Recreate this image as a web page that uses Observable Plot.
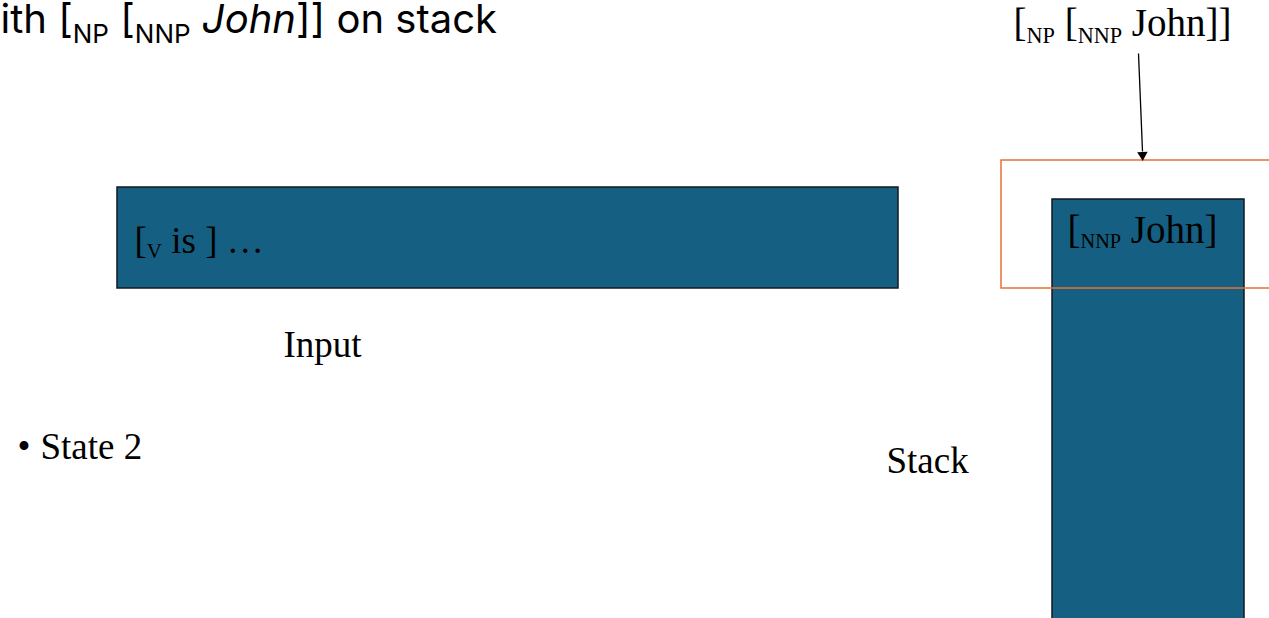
<!DOCTYPE html>
<html>
<head>
<meta charset="utf-8">
<script src="https://cdn.jsdelivr.net/npm/d3@7"></script>
<script src="https://cdn.jsdelivr.net/npm/@observablehq/plot@0.6"></script>
<style>
  html, body { margin: 0; padding: 0; background: #ffffff; overflow: hidden; }
  #chart svg { display: block; overflow: hidden; }
</style>
</head>
<body>
<div id="chart"></div>
<script>
// ---- content (text with markup: {sub} = subscript, *it* = italic) ----
const titleText = ["ith [{NP} [{NNP} *John*]] on stack"];
const labelText = ["[{NP} [{NNP} John]]", "[{NNP} John]", "[{V} is ] …", "Input", "•", "State 2", "Stack"];
const blockNames = ["Input buffer", "Stack"];
const focusNames = ["Top of stack"];

// ---- layout (slide coordinates, pixels of a 1269 × 618 slide) ----
const W = 1269, H = 618;
const titleX = [0], titleY = [32], titleSize = [40];
const titleSub = [0.65], titleShift = [0.25];
const labelX = [1013, 1067, 134, 283, 17, 40, 886];
const labelY = [35, 242, 252, 356, 458, 458, 472];
const labelSize = [39, 39, 37, 37, 37, 37, 37];
const labelSub = [0.57, 0.52, 0.57, 0.6, 0.6, 0.6, 0.6];
const labelShift = [0.2, 0.14, 0.14, 0.2, 0.2, 0.2, 0.2];
const blockX1 = [117, 1052], blockX2 = [898, 1244];
const blockY1 = [187, 199], blockY2 = [288, 640];
const focusX1 = [1001], focusX2 = [1300], focusY1 = [160], focusY2 = [288];
const arrowX1 = [1138], arrowY1 = [53], arrowX2 = [1142], arrowY2 = [160];

const fill = "#156082", edge = "#111820", orange = "#E97132";
const serif = "'Liberation Serif', 'Times New Roman', serif";
const sans = "Inter, 'Noto Sans', sans-serif";

const plain = s => s.replace(/[{}*]/g, "");

const chart = Plot.plot({
  width: W, height: H,
  margin: 0,
  x: {domain: [0, W], range: [0, W], axis: null},
  y: {domain: [0, H], range: [0, H], axis: null},
  style: {background: "#ffffff", overflow: "hidden"},
  marks: [
    Plot.rect(blockNames, {
      x1: (d, i) => blockX1[i], x2: (d, i) => blockX2[i],
      y1: (d, i) => blockY1[i], y2: (d, i) => blockY2[i],
      fill, stroke: edge, strokeWidth: 1.5
    }),
    Plot.rect(focusNames, {
      x1: (d, i) => focusX1[i], x2: (d, i) => focusX2[i],
      y1: (d, i) => focusY1[i], y2: (d, i) => focusY2[i],
      fill: "none", stroke: orange, strokeWidth: 1.5
    }),
    Plot.link(focusNames, {
      x1: (d, i) => arrowX1[i], y1: (d, i) => arrowY1[i],
      x2: (d, i) => arrowX2[i], y2: (d, i) => arrowY2[i] - 9,
      stroke: "#000", strokeWidth: 1.3
    }),
    Plot.dot(focusNames, {
      x: (d, i) => arrowX2[i], y: (d, i) => arrowY2[i] - 5.5,
      symbol: "triangle2", r: 5, fill: "#000", stroke: "none", rotate: 178
    }),
    Plot.text(titleText, {
      x: (d, i) => titleX[i], y: (d, i) => titleY[i], text: plain,
      fontSize: (d, i) => titleSize[i], fontFamily: sans,
      textAnchor: "start", lineAnchor: "bottom", fill: "#000"
    }),
    Plot.text(labelText, {
      x: (d, i) => labelX[i], y: (d, i) => labelY[i], text: plain,
      fontSize: (d, i) => labelSize[i], fontFamily: serif,
      textAnchor: "start", lineAnchor: "bottom", fill: "#000"
    })
  ]
});

// rich text: subscripts and italics as tspans
const NS = "http://www.w3.org/2000/svg";
function richify(el, markup, size, subScale, shiftScale) {
  const subSize = size * subScale, shift = size * shiftScale;
  while (el.firstChild) el.removeChild(el.firstChild);
  const re = /\{([^}]*)\}|\*([^*]*)\*|([^{*]+)/g;
  let m, shifted = false;
  while ((m = re.exec(markup))) {
    const t = document.createElementNS(NS, "tspan");
    if (m[1] !== undefined) {
      t.textContent = m[1];
      t.setAttribute("font-size", subSize);
      if (!shifted) { t.setAttribute("dy", shift); shifted = true; }
    } else {
      if (shifted) { t.setAttribute("dy", -shift); shifted = false; }
      if (m[2] !== undefined) { t.textContent = m[2]; t.setAttribute("font-style", "italic"); }
      else t.textContent = m[3];
    }
    el.appendChild(t);
  }
}
const texts = chart.querySelectorAll("text");
const allMarkup = titleText.concat(labelText);
const allSize = titleSize.concat(labelSize);
const allSub = titleSub.concat(labelSub);
const allShift = titleShift.concat(labelShift);
texts.forEach((el, i) => {
  if (i < allMarkup.length) richify(el, allMarkup[i], allSize[i], allSub[i], allShift[i]);
});

document.getElementById("chart").appendChild(chart);
</script>
</body>
</html>
